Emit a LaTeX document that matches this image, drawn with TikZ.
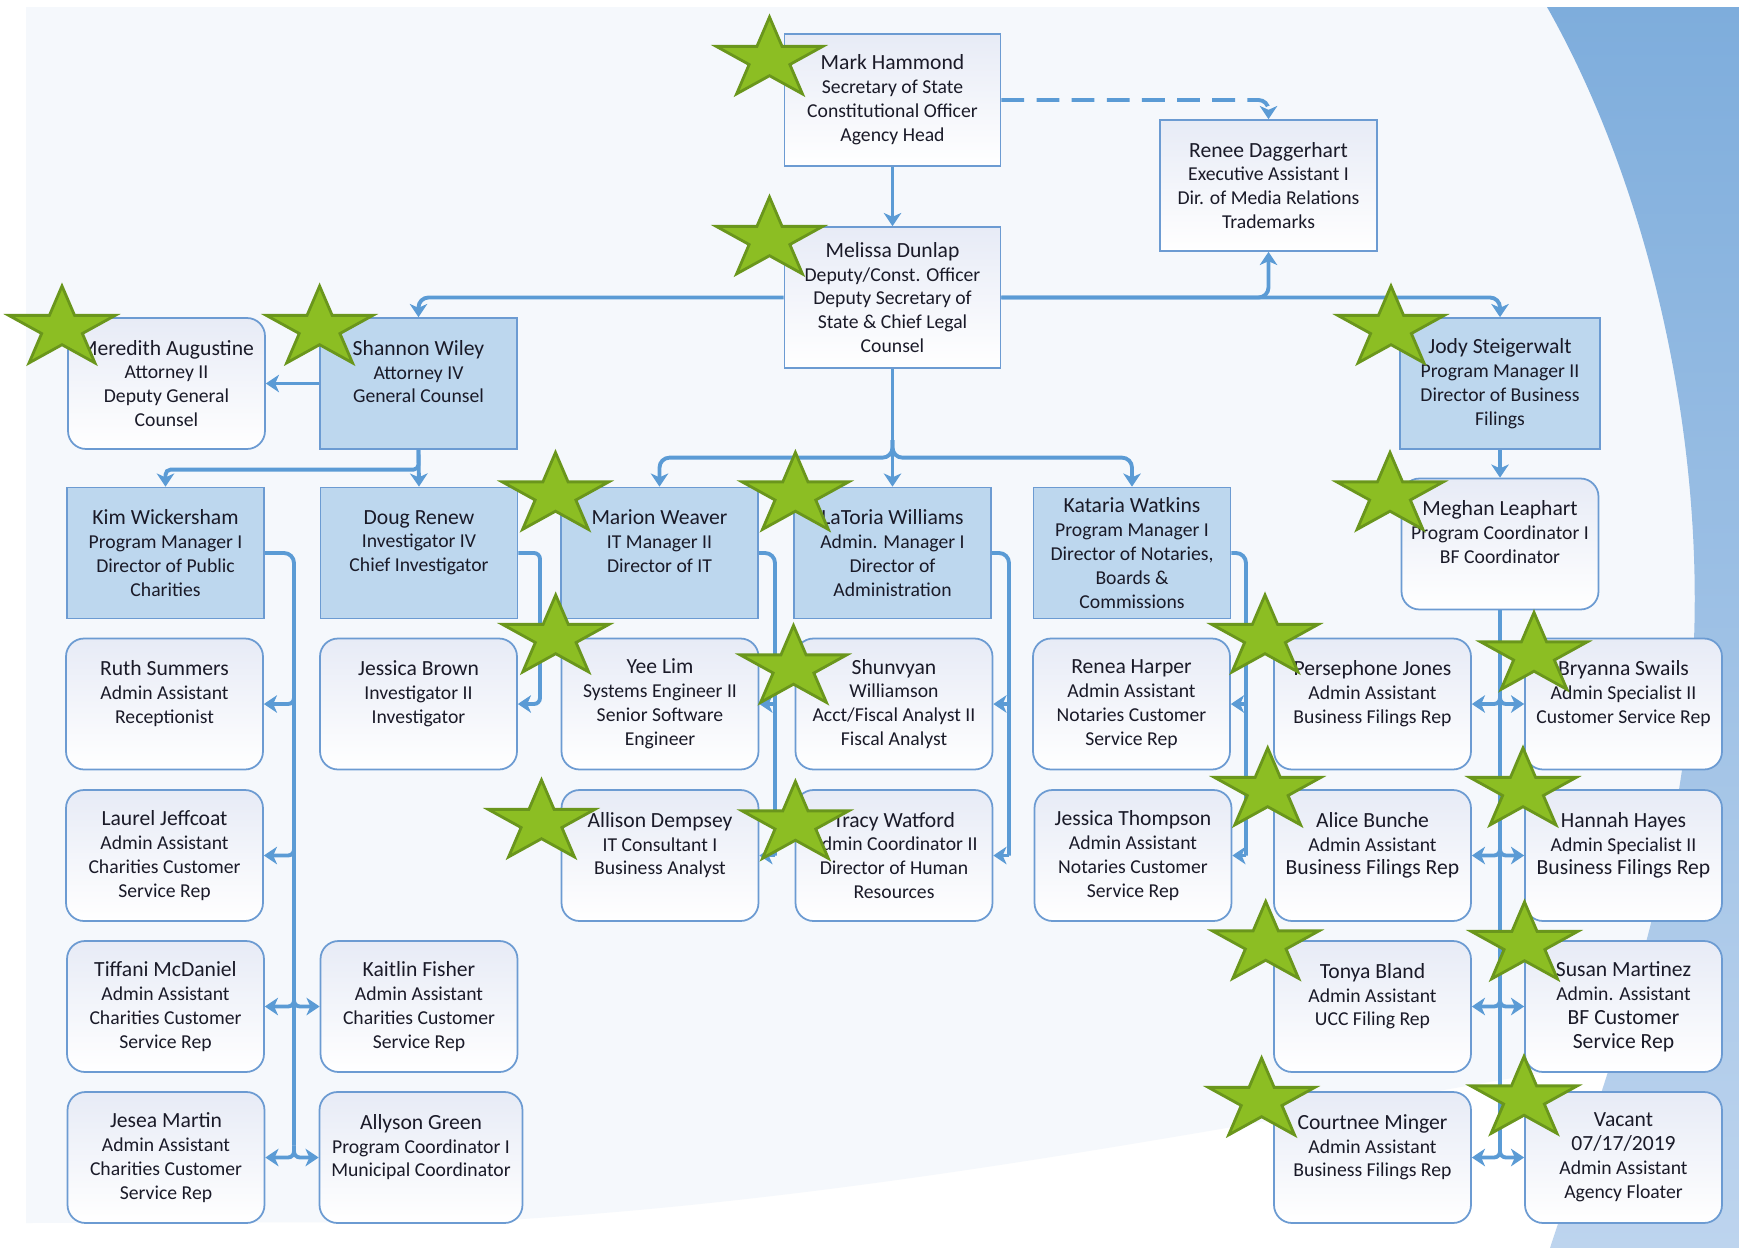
\documentclass[tikz,border=0pt]{standalone}
\usepackage{fontspec}
\setmainfont{Carlito}
\usetikzlibrary{arrows.meta,calc}
\definecolor{linec}{HTML}{5B9BD5}
\definecolor{boxdraw}{HTML}{6C9BD2}
\definecolor{boxfill}{HTML}{BDD7EE}
\definecolor{gradtop}{HTML}{E7EBF6}
\definecolor{txt}{HTML}{1A1A28}
\definecolor{panel}{HTML}{F5F8FC}
\definecolor{crestop}{HTML}{7EADDC}
\definecolor{cresbot}{HTML}{BDD4EE}
\definecolor{starfill}{HTML}{8CBE23}
\definecolor{stardraw}{HTML}{6A961C}
\newcommand\nm{\fontsize{12.3}{14.2}\selectfont}
\newcommand\ttlf{\fontsize{11.2}{13.6}\selectfont}
\newcommand\mystar[2]{\begin{scope}[shift={(#1,#2)}]\filldraw[starsty] (-90:56 and 42.5) -- (-54:21.4 and 16.2) -- (-18:56 and 42.5) -- (18:21.4 and 16.2) -- (54:56 and 42.5) -- (90:21.4 and 16.2) -- (126:56 and 42.5) -- (162:21.4 and 16.2) -- (198:56 and 42.5) -- (234:21.4 and 16.2) -- cycle;\end{scope}}
\tikzset{
 boxbase/.style={minimum width=3.94cm, minimum height=2.62cm, inner sep=0pt, align=center, text=txt, font=\ttlf},
 bluebox/.style={boxbase, draw=boxdraw, fill=boxfill, line width=1pt},
 whitebox/.style={boxbase, draw=boxdraw, top color=gradtop, bottom color=white, line width=1pt},
 roundbox/.style={whitebox, rounded corners=0.36cm},
 conn/.style={draw=linec, line width=2.2pt, rounded corners=0.2cm},
 arr/.style={conn, -{Stealth[length=7.5pt, width=10pt, inset=2.2pt]}},
 brl/.style={arr, rounded corners=0.12cm},
 dashconn/.style={arr, dash pattern=on 13pt off 7pt},
 starsty/.style={fill=starfill, draw=stardraw, line width=1.6pt, line join=miter},
}
\begin{document}
\begin{tikzpicture}[x=0.02cm, y=-0.02cm]
\useasboundingbox (0,0) rectangle (1739,1248);
\fill[white] (0,0) rectangle (1739,1248);
\fill[panel] (26,7) -- (1739,7) -- (1739,1040) .. controls (1300,1110) and (900,1200) .. (470,1222) -- (26,1223) -- cycle;
\shade[top color=crestop, bottom color=cresbot] (1547,7) .. controls (1645,180) and (1702,420) .. (1694,640) .. controls (1686,860) and (1615,1050) .. (1550,1248) -- (1739,1248) -- (1739,7) -- cycle;

% top
\node[whitebox, minimum width=4.32cm, minimum height=2.64cm] (mark) at (892.5,100) {{\nm Mark Hammond}\\Secretary of State\\Constitutional Officer\\Agency Head};
\node[whitebox, minimum width=4.34cm] (renee) at (1268.5,185.5) {{\nm Renee Daggerhart}\\Executive Assistant I\\Dir. of Media Relations\\Trademarks};
\node[whitebox, minimum width=4.32cm, minimum height=2.82cm] (melissa) at (892.5,297.5) {{\nm Melissa Dunlap}\\Deputy/Const. Officer\\Deputy Secretary of\\State \& Chief Legal\\Counsel};
\node[roundbox] (meredith) at (166.5,383.5) {{\nm Meredith Augustine}\\Attorney II\\Deputy General\\Counsel};
\node[bluebox] (shannon) at (418.5,383.5) {{\nm Shannon Wiley}\\Attorney IV\\General Counsel\\\mbox{}};
\node[bluebox, minimum width=4cm] (jody) at (1500,383.5) {{\nm Jody Steigerwalt}\\Program Manager II\\Director of Business\\Filings};
% row 2
\node[bluebox] (kim) at (165.5,553) {{\nm Kim Wickersham}\\Program Manager I\\Director of Public\\Charities};
\node[bluebox] (doug) at (419,553) {{\nm Doug Renew}\\Investigator IV\\Chief Investigator\\\mbox{}};
\node[bluebox] (marion) at (659.5,553) {{\nm Marion Weaver}\\IT Manager II\\Director of IT\\\mbox{}};
\node[bluebox] (latoria) at (892.5,553) {{\nm LaToria Williams}\\Admin. Manager I\\Director of\\Administration};
\node[bluebox] (kataria) at (1132,553) {{\nm Kataria Watkins}\\Program Manager I\\Director of Notaries,\\Boards \&\\Commissions};
\node[roundbox] (meghan) at (1500,544) {{\nm Meghan Leaphart}\\Program Coordinator I\\BF Coordinator\\\mbox{}};
% row 3
\node[roundbox] (ruth) at (164.5,704) {{\nm Ruth Summers}\\Admin Assistant\\Receptionist\\\mbox{}};
\node[roundbox] (jbrown) at (418.5,704) {\nm Jessica Brown\\Investigator II\\Investigator\\\ttlf\mbox{}};
\node[roundbox] (yee) at (660,704) {{\nm Yee Lim}\\Systems Engineer II\\Senior Software\\Engineer};
\node[roundbox] (shun) at (894,704) {\nm Shunvyan\\Williamson\\\ttlf Acct/Fiscal Analyst II\\Fiscal Analyst};
\node[roundbox] (renea) at (1131.5,704) {{\nm Renea Harper}\\Admin Assistant\\Notaries Customer\\Service Rep};
\node[roundbox] (perse) at (1372.5,704) {{\nm Persephone Jones}\\Admin Assistant\\Business Filings Rep\\\mbox{}};
\node[roundbox] (bryanna) at (1623.5,704) {{\nm Bryanna Swails}\\Admin Specialist II\\Customer Service Rep\\\mbox{}};
% row 4
\node[roundbox] (laurel) at (164.5,855.5) {{\nm Laurel Jeffcoat}\\Admin Assistant\\Charities Customer\\Service Rep};
\node[roundbox] (allison) at (660,855.5) {{\nm Allison Dempsey}\\IT Consultant I\\Business Analyst\\\mbox{}};
\node[roundbox] (tracy) at (894,855.5) {{\nm Tracy Watford}\\Admin Coordinator II\\Director of Human\\Resources};
\node[roundbox] (jthomp) at (1133,855.5) {{\nm Jessica Thompson}\\Admin Assistant\\Notaries Customer\\Service Rep};
\node[roundbox] (alice) at (1372.5,855.5) {{\nm Alice Bunche}\\Admin Assistant\\{\nm Business Filings Rep}\\\mbox{}};
\node[roundbox] (hannah) at (1623.5,855.5) {{\nm Hannah Hayes}\\Admin Specialist II\\{\nm Business Filings Rep}\\\mbox{}};
% row 5
\node[roundbox] (tiffani) at (165.5,1006.5) {{\nm Tiffani McDaniel}\\Admin Assistant\\Charities Customer\\Service Rep};
\node[roundbox] (kaitlin) at (419,1006.5) {{\nm Kaitlin Fisher}\\Admin Assistant\\Charities Customer\\Service Rep};
\node[roundbox] (tonya) at (1372.5,1006.5) {{\nm Tonya Bland}\\Admin Assistant\\UCC Filing Rep\\\mbox{}};
\node[roundbox] (susan) at (1623.5,1006.5) {{\nm Susan Martinez}\\Admin. Assistant\\{\nm BF Customer}\\{\nm Service Rep}};
% row 6
\node[roundbox] (jesea) at (166,1157.5) {{\nm Jesea Martin}\\Admin Assistant\\Charities Customer\\Service Rep};
\node[roundbox, minimum width=4.06cm] (allyson) at (421,1157.5) {{\nm Allyson Green}\\Program Coordinator I\\Municipal Coordinator\\\mbox{}};
\node[roundbox] (courtnee) at (1372.5,1157.5) {{\nm Courtnee Minger}\\Admin Assistant\\Business Filings Rep\\\mbox{}};
\node[roundbox] (vacant) at (1623.5,1157.5) {{\nm Vacant}\\{\nm 07/17/2019}\\Admin Assistant\\Agency Floater};

% trunk coordinates
\coordinate (kx) at (294,0);
\coordinate (dx) at (540,0);
\coordinate (mx) at (775,0);
\coordinate (lx) at (1009,0);
\coordinate (kax) at (1246,0);
\coordinate (mfork) at (892.5,440);

% connectors
\draw[arr] (mark.south) -- (melissa.north);
\draw[dashconn] (mark.east) -| (renee.north);
\draw[arr] (melissa.west) -| (shannon.north);
\draw[arr] (melissa.east) -| (renee.south);
\draw[arr] (melissa.east) -| (jody.north);
\draw[arr] (melissa.south) -- (latoria.north);
\draw[arr] (mfork) |- ([yshift=0.58cm]marion.north) -- (marion.north);
\draw[arr] (mfork) |- ([yshift=0.58cm]kataria.north) -- (kataria.north);
\draw[arr] (shannon.west) -- (meredith.east);
\draw[arr] (shannon.south) -- (doug.north);
\draw[arr, rounded corners=0.1cm] (shannon.south) |- ([yshift=0.34cm]kim.north) -- (kim.north);
\draw[arr] (jody.south) -- (meghan.north);

% Kim
\draw[conn] (kim.east) -| ([yshift=0.24cm]kx |- jesea.east);
\draw[brl] ([yshift=0.24cm]kx |- ruth.east) |- (ruth.east);
\draw[brl] ([yshift=0.24cm]kx |- laurel.east) |- (laurel.east);
\draw[brl] ([yshift=0.24cm]kx |- tiffani.east) |- (tiffani.east);
\draw[brl] ([yshift=0.24cm]kx |- jesea.east) |- (jesea.east);
\draw[brl] ([yshift=0.24cm]kx |- kaitlin.west) |- (kaitlin.west);
\draw[brl] ([yshift=0.24cm]kx |- allyson.west) |- (allyson.west);
% Doug
\draw[brl] (doug.east) -- (dx |- doug.east) -- (dx |- jbrown.east) -- (jbrown.east);
% Marion
\draw[conn] (marion.east) -| (mx |- allison.east);
\draw[arr] (mx |- yee.east) -- (yee.east);
\draw[arr] (mx |- allison.east) -- (allison.east);
% LaToria
\draw[conn] (latoria.east) -| (lx |- tracy.east);
\draw[arr] (lx |- shun.east) -- (shun.east);
\draw[arr] (lx |- tracy.east) -- (tracy.east);
% Kataria
\draw[conn] (kataria.east) -| (kax |- jthomp.east);
\draw[arr] (kax |- renea.east) -- (renea.east);
\draw[arr] (kax |- jthomp.east) -- (jthomp.east);
% Meghan
\draw[conn] (meghan.south) -- ([yshift=0.24cm]meghan.south |- courtnee.east);
\draw[brl] ([yshift=0.24cm]meghan.south |- perse.east) |- (perse.east);
\draw[brl] ([yshift=0.24cm]meghan.south |- bryanna.west) |- (bryanna.west);
\draw[brl] ([yshift=0.24cm]meghan.south |- alice.east) |- (alice.east);
\draw[brl] ([yshift=0.24cm]meghan.south |- hannah.west) |- (hannah.west);
\draw[brl] ([yshift=0.24cm]meghan.south |- tonya.east) |- (tonya.east);
\draw[brl] ([yshift=0.24cm]meghan.south |- susan.west) |- (susan.west);
\draw[brl] ([yshift=0.24cm]meghan.south |- courtnee.east) |- (courtnee.east);
\draw[brl] ([yshift=0.24cm]meghan.south |- vacant.west) |- (vacant.west);

% stars
\mystar{769.5}{59.5}
\mystar{769.5}{239.5}
\mystar{62}{328.5}
\mystar{319.6}{328.5}
\mystar{1391}{328.5}
\mystar{1390}{495}
\mystar{555.5}{495}
\mystar{795.4}{495}
\mystar{555.7}{637.5}
\mystar{793.5}{668}
\mystar{541.5}{822.5}
\mystar{795.4}{824}
\mystar{1265}{637.5}
\mystar{1534}{655}
\mystar{1267.7}{790.5}
\mystar{1523}{790.5}
\mystar{1265.7}{944}
\mystar{1524.5}{944.5}
\mystar{1261.6}{1100.5}
\mystar{1524}{1099}
\end{tikzpicture}
\end{document}
